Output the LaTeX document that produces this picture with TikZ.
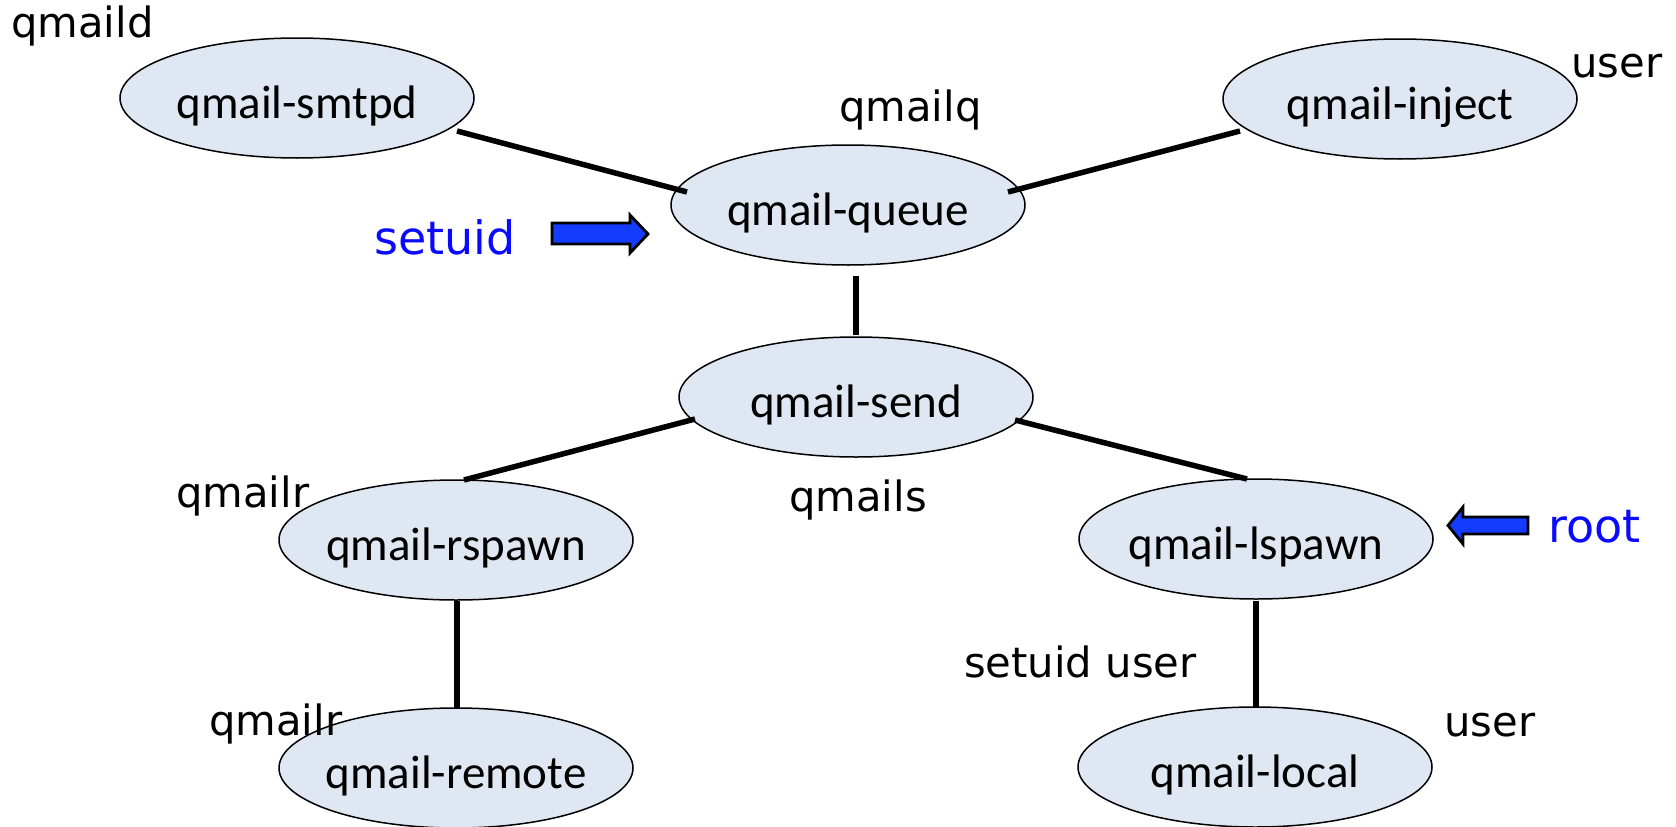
\documentclass[tikz,border=0pt]{standalone}
\usepackage{fontspec}
\setmainfont{Carlito}
\newfontfamily\labfont{DejaVu Sans}
\usetikzlibrary{calc,shapes.geometric}
\definecolor{nodefill}{RGB}{222,231,242}
\definecolor{arrowblue}{RGB}{20,60,255}
\definecolor{labblue}{RGB}{10,10,255}
\newcommand{\lowtext}[1]{\raisebox{-8pt}[\height][\depth]{#1}}
\begin{document}
\begin{tikzpicture}[x=1pt,y=-1pt,
  proc/.style={ellipse, draw=black, line width=1.5pt, fill=nodefill,
    minimum width=354pt, minimum height=120pt, inner xsep=-40pt, inner ysep=0pt,
    font=\fontsize{47}{50}\selectfont},
  conn/.style={line width=5.5pt},
  lab/.style={anchor=base west, inner sep=0pt, font=\labfont\fontsize{41.7}{45}\selectfont},
  bluelab/.style={anchor=base west, inner sep=0pt, text=labblue, font=\labfont\fontsize{46}{50}\selectfont},
  barrow/.style={draw=black, line width=2.8pt, fill=arrowblue, line join=miter}
]
\useasboundingbox (0,0) rectangle (1676,827);

% nodes
\node[proc] (smtpd)  at (297,98)  {\lowtext{qmail-smtpd}};
\node[proc] (inject) at (1400,99) {\lowtext{qmail-inject}};
\node[proc] (queue)  at (848,205) {\lowtext{qmail-queue}};
\node[proc] (send)   at (856,397) {\lowtext{qmail-send}};
\node[proc] (rspawn) at (456,540) {\lowtext{qmail-rspawn}};
\node[proc] (lspawn) at (1256,539) {\lowtext{qmail-lspawn}};
\node[proc] (remote) at (456,768) {\lowtext{qmail-remote}};
\node[proc] (local)  at (1255,767) {\lowtext{qmail-local}};

% connectors
\draw[conn] ($(smtpd)+(160,33)$) -- ($(queue)+(-161,-13)$);
\draw[conn] ($(queue)+(160,-13)$) -- ($(inject)+(-160,32)$);
\draw[conn] ($(queue)+(8,71)$) -- ($(send)+(0,-62)$);
\draw[conn] ($(send)+(-161,22)$) -- ($(rspawn)+(8,-60)$);
\draw[conn] ($(send)+(159,23)$) -- ($(lspawn)+(-9,-60)$);
\draw[conn] ($(rspawn)+(1,61)$) -- ($(remote)+(1,-60)$);
\draw[conn] ($(lspawn)+(0,62)$) -- ($(local)+(1,-60)$);

% blue arrows
\draw[barrow] (552,223) -- (630,223) -- (630,215) -- (648,234) -- (630,253)
  -- (630,244) -- (552,244) -- cycle;
\draw[barrow] (1528,517) -- (1463,517) -- (1463,507) -- (1448,525.5) -- (1463,544)
  -- (1463,534) -- (1528,534) -- cycle;

% labels
\node[lab] (l1) at (11,37) {qmaild};
\node[lab] (l2) at (1571,77) {user};
\node[lab] (l3) at (839,121) {qmailq};
\node[bluelab] (l4) at (374,254) {setuid};
\node[bluelab] (l5) at (1548,542) {root};
\node[lab] (l6) at (176,507) {qmailr};
\node[lab] (l7) at (789,511) {qmails};
\node[lab] (l8) at (964,677) {setuid user};
\node[lab] (l9) at (209,735) {qmailr};
\node[lab] (l10) at (1444,736) {user};
\end{tikzpicture}
\end{document}
